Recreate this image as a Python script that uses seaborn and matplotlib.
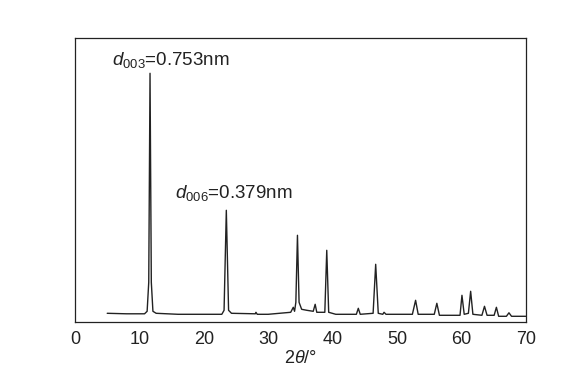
import matplotlib
matplotlib.use("Agg")
import matplotlib.pyplot as plt
import seaborn as sns
import pandas as pd

# XRD pattern (2theta in degrees, intensity in arbitrary units)
two_theta = [5.0, 8.0, 10.8, 11.2, 11.45, 11.65, 11.85, 12.1, 12.6, 16.0, 20.0,
             22.8, 23.15, 23.5, 23.85, 24.3, 28.0, 28.1, 28.3, 30.0,
             33.5, 33.9, 34.1, 34.3, 34.55, 34.8, 35.2, 36.0, 37.0, 37.3, 37.55,
             38.8, 39.1, 39.4, 40.5, 43.7, 44.0, 44.3, 46.3, 46.7, 47.1,
             47.8, 48.0, 48.3, 52.4, 52.9, 53.3, 55.8, 56.2, 56.6,
             59.8, 60.1, 60.45, 61.1, 61.45, 61.8, 63.2, 63.6, 64.0,
             65.1, 65.45, 65.8, 67.0, 67.4, 67.8, 70.0]
intensity = [9, 8.5, 8.5, 11, 40, 249, 40, 11, 9, 8, 8,
             8, 12, 112, 12, 9, 8.5, 10, 8, 8,
             10, 15, 11, 20, 87, 20, 13, 12, 11, 18, 10,
             10, 72, 10, 8, 8, 14, 8, 9, 58, 9,
             8, 10, 8, 8, 22, 8, 8, 19, 7,
             7, 27, 8, 9, 31, 8, 7, 16, 7,
             7, 15, 6, 6, 9.5, 6, 6]

annot_text = [r"$d_{003}$=0.753nm", r"$d_{006}$=0.379nm"]
annot_x = [5.75, 15.55]
annot_y = [262, 129]

x_ticks = [0, 10, 20, 30, 40, 50, 60, 70]

sns.set_style("white")
plt.rcParams["font.family"] = ["Liberation Sans", "DejaVu Sans"]
plt.rcParams["mathtext.fontset"] = "custom"
plt.rcParams["mathtext.rm"] = "Liberation Sans"
plt.rcParams["mathtext.it"] = "Liberation Sans:italic"

df = pd.DataFrame({"two_theta": two_theta, "intensity": intensity})

fig = plt.figure(figsize=(5.78, 3.83), dpi=100)
ax = fig.add_axes([0.1298, 0.1585, 0.9095 - 0.1298, 0.900 - 0.1585])
sns.lineplot(data=df, x="two_theta", y="intensity", ax=ax, color="#222222",
             linewidth=1.0, sort=False)

ax.set_xlim(0, 70)
ax.set_ylim(0, 284)
ax.set_xticks(x_ticks)
ax.set_yticks([])
ax.tick_params(axis="x", direction="in", length=4, width=0.8, labelsize=13,
               colors="#222222", pad=6)
ax.set_xlabel(r"2$\it{\theta}$/°", fontsize=13, color="#222222", labelpad=2)
ax.set_ylabel("")
for s in ax.spines.values():
    s.set_visible(True)
    s.set_color("#222222")
    s.set_linewidth(0.9)

for t, x, y in zip(annot_text, annot_x, annot_y):
    ax.text(x, y, t, fontsize=13.5, color="#222222", ha="left", va="center")

fig.savefig("out.png", dpi=100)
